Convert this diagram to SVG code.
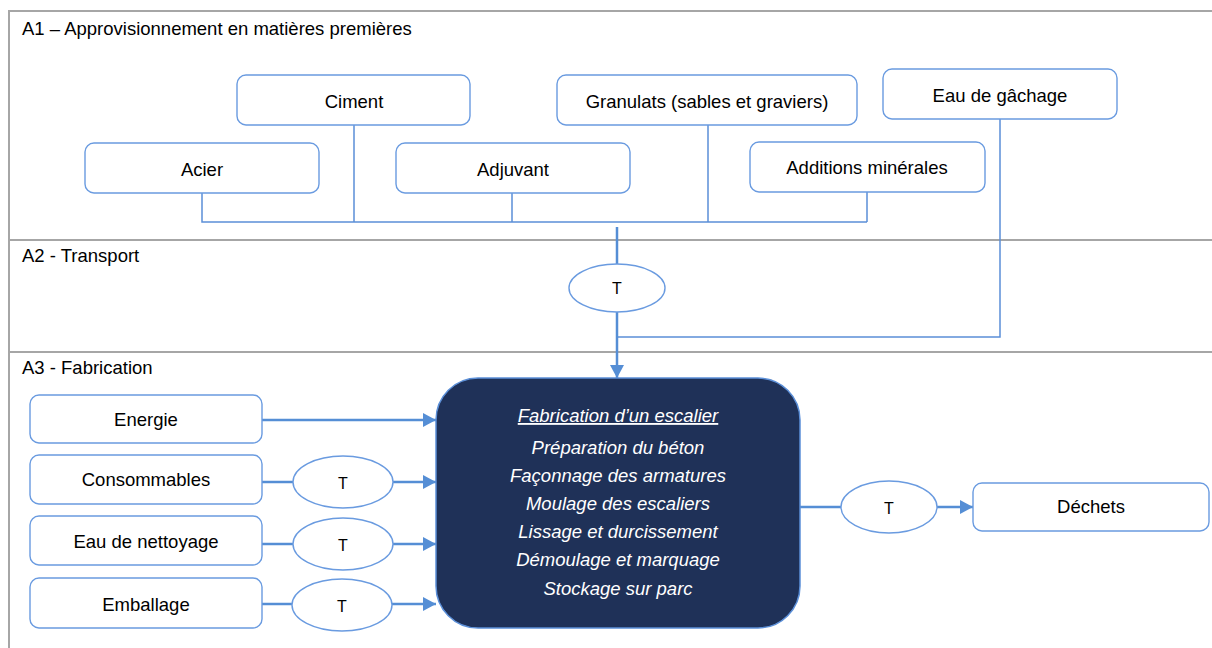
<svg xmlns="http://www.w3.org/2000/svg" width="1212" height="648" viewBox="0 0 1212 648">
<style>
.frame{stroke:#A6A6A6;stroke-width:2;fill:none}
.box{fill:#fff;stroke:#6A9BE0;stroke-width:1.4}
.ell{fill:#fff;stroke:#6A9BE0;stroke-width:1.4}
.lbl{font-family:"Liberation Sans",Arial,sans-serif;font-size:18.5px;fill:#000;text-anchor:middle}
.sec{font-family:"Liberation Sans",Arial,sans-serif;font-size:18.5px;fill:#000}
.t{font-family:"Liberation Sans",Arial,sans-serif;font-size:16px;fill:#000;text-anchor:middle}
.tree{stroke:#5B8FD8;stroke-width:1.5;fill:none}
.arr{stroke:#558ED5;stroke-width:2.5;fill:none}
.main{fill:#1F3158;stroke:#5B8FD8;stroke-width:1.5}
.mt{font-family:"Liberation Sans",Arial,sans-serif;font-size:18.5px;font-style:italic;fill:#fff;text-anchor:middle}
</style>
<defs>
<marker id="ah" markerUnits="userSpaceOnUse" markerWidth="14" markerHeight="14" refX="13" refY="7" orient="auto">
<path d="M0,0 L13,7 L0,14 z" fill="#558ED5"/>
</marker>
</defs>
<rect width="1212" height="648" fill="#fff"/>
<g id="frame">
<path class="frame" d="M1212,11 H9 V648"/>
<path class="frame" d="M9,240 H1212 M9,352 H1212"/>
<text class="sec" x="22" y="35">A1 – Approvisionnement en matières premières</text>
<text class="sec" x="22" y="262">A2 - Transport</text>
<text class="sec" x="22" y="374">A3 - Fabrication</text>
</g>
<g id="connectors">
<path class="tree" d="M202,193 V222 H867 M354,125 V222 M512,193 V222 M708,125 V222 M867,192 V222"/>
<path class="tree" d="M1000,119 V337 H617"/>
<path class="arr" d="M617,227 V264"/>
<path class="arr" d="M617,312 V378" marker-end="url(#ah)"/>
<path class="arr" d="M262,420 H436" marker-end="url(#ah)"/>
<path class="arr" d="M262,482 H294"/>
<path class="arr" d="M393,482 H436" marker-end="url(#ah)"/>
<path class="arr" d="M262,544 H294"/>
<path class="arr" d="M393,544 H436" marker-end="url(#ah)"/>
<path class="arr" d="M262,604 H292"/>
<path class="arr" d="M392,604 H436" marker-end="url(#ah)"/>
<path class="arr" d="M800,507 H841"/>
<path class="arr" d="M937,507 H973" marker-end="url(#ah)"/>
</g>
<g id="ciment"><rect class="box" x="237" y="75" width="233" height="50" rx="9"/><text class="lbl" x="354" y="108">Ciment</text></g>
<g id="granulats"><rect class="box" x="557" y="75" width="300" height="50" rx="9"/><text class="lbl" x="707" y="108">Granulats (sables et graviers)</text></g>
<g id="eau-gachage"><rect class="box" x="883" y="69" width="234" height="50" rx="9"/><text class="lbl" x="1000" y="102">Eau de gâchage</text></g>
<g id="acier"><rect class="box" x="85" y="143" width="234" height="50" rx="9"/><text class="lbl" x="202" y="176">Acier</text></g>
<g id="adjuvant"><rect class="box" x="396" y="143" width="234" height="50" rx="9"/><text class="lbl" x="513" y="176">Adjuvant</text></g>
<g id="additions"><rect class="box" x="750" y="142" width="235" height="50" rx="9"/><text class="lbl" x="867" y="174">Additions minérales</text></g>
<g id="t-transport"><ellipse class="ell" cx="617" cy="288" rx="48" ry="24"/><text class="t" x="617" y="294">T</text></g>
<g id="energie"><rect class="box" x="30" y="395" width="232" height="48" rx="9"/><text class="lbl" x="146" y="426">Energie</text></g>
<g id="consommables"><rect class="box" x="30" y="455" width="232" height="49" rx="9"/><text class="lbl" x="146" y="486">Consommables</text></g>
<g id="eau-nettoyage"><rect class="box" x="30" y="516" width="232" height="49" rx="9"/><text class="lbl" x="146" y="548">Eau de nettoyage</text></g>
<g id="emballage"><rect class="box" x="30" y="578" width="232" height="50" rx="9"/><text class="lbl" x="146" y="611">Emballage</text></g>
<g id="t-consommables"><ellipse class="ell" cx="343" cy="482" rx="50" ry="26"/><text class="t" x="343" y="489">T</text></g>
<g id="t-eau"><ellipse class="ell" cx="343" cy="544" rx="50" ry="26"/><text class="t" x="343" y="551">T</text></g>
<g id="t-emballage"><ellipse class="ell" cx="342" cy="605" rx="50" ry="26"/><text class="t" x="342" y="612">T</text></g>
<g id="fabrication">
<rect class="main" x="436" y="378" width="364" height="250" rx="42"/>
<text class="mt" x="618" y="422" text-decoration="underline">Fabrication d’un escalier</text>
<text class="mt" x="618" y="454">Préparation du béton</text>
<text class="mt" x="618" y="482">Façonnage des armatures</text>
<text class="mt" x="618" y="510">Moulage des escaliers</text>
<text class="mt" x="618" y="538">Lissage et durcissement</text>
<text class="mt" x="618" y="566">Démoulage et marquage</text>
<text class="mt" x="618" y="595">Stockage sur parc</text>
</g>
<g id="t-dechets"><ellipse class="ell" cx="889" cy="507" rx="48" ry="26"/><text class="t" x="889" y="514">T</text></g>
<g id="dechets"><rect class="box" x="973" y="483" width="236" height="48" rx="9"/><text class="lbl" x="1091" y="513">Déchets</text></g>
</svg>
